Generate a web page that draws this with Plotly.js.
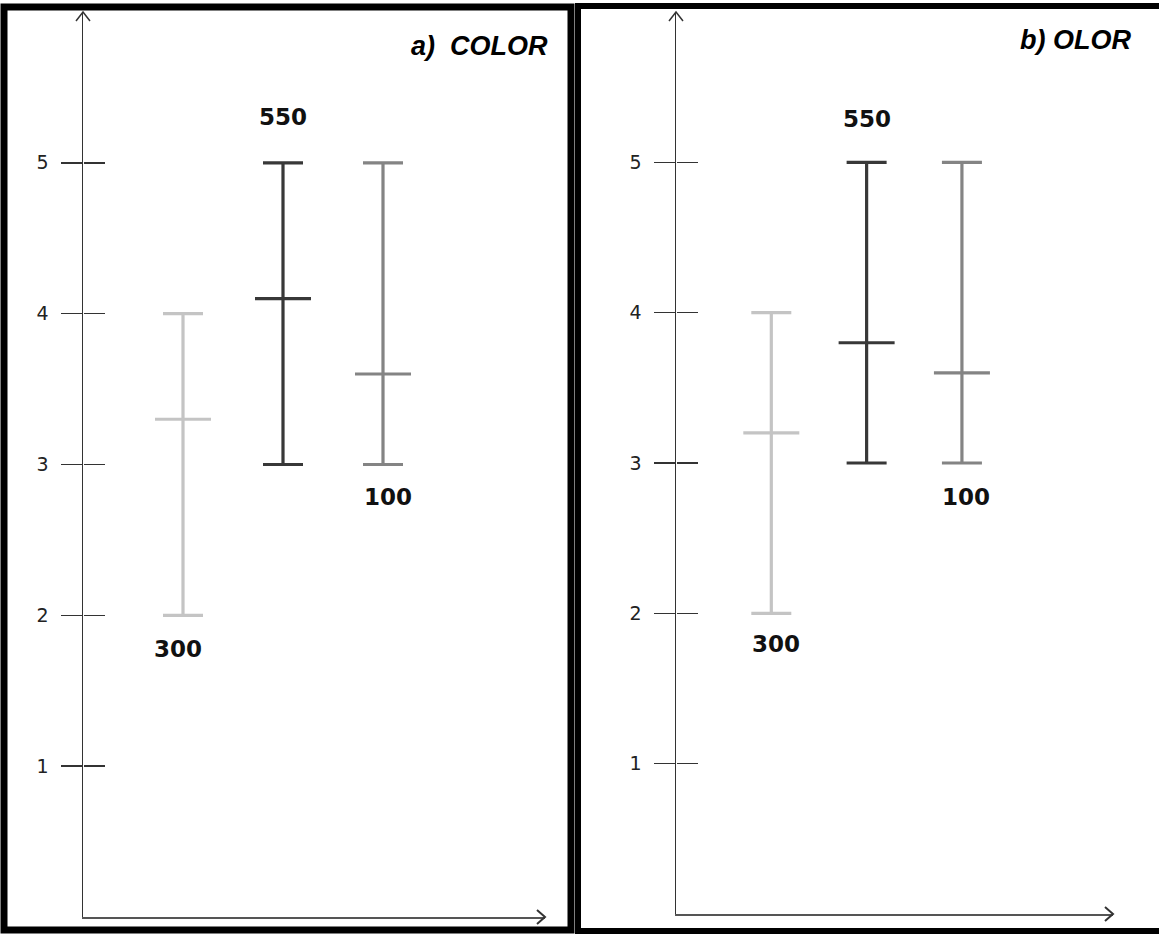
<!DOCTYPE html>
<html>
<head>
<meta charset="utf-8">
<script src="https://cdn.plot.ly/plotly-3.0.1.min.js"></script>
<style>html,body{margin:0;padding:0;background:#fff;}#chart{width:1159px;height:935px;}</style>
</head>
<body>
<div id="chart"></div>
<script>
// ---- data ----
const categories = ['300', '550', '100'];
const xPos = [1, 2, 3];
const minA = [2, 3, 3];
const meanA = [3.3, 4.1, 3.6];
const maxA = [4, 5, 5];
const minB = [2, 3, 3];
const meanB = [3.2, 3.8, 3.6];
const maxB = [4, 5, 5];
const yTicks = [1, 2, 3, 4, 5];
const panelTitles = ['a)  COLOR', 'b) OLOR'];

// ---- styling ----
const W = 1159, H = 935;
const colors = ['#c4c4c4', '#383838', '#848484'];
const px = x => x / W;
const py = y => 1 - y / H;
const labelAbove = [false, true, false];
const labelShiftA = [[-5, -34], [0, 46], [5, -32]];
const labelShiftB = [[5, -31], [0, 43], [4, -34]];

const traces = [];
function addPanel(mins, means, maxs, xa, ya) {
  for (let i = 0; i < categories.length; i++) {
    traces.push({
      type: 'scatter', mode: 'markers',
      x: [xPos[i]], y: [means[i]],
      xaxis: xa, yaxis: ya,
      marker: {symbol: 'line-ew', size: 40, color: colors[i], line: {color: colors[i], width: 3.2}},
      error_y: {type: 'data', symmetric: false,
        array: [maxs[i] - means[i]], arrayminus: [means[i] - mins[i]],
        color: colors[i], thickness: 3.2, width: 20},
      showlegend: false, hoverinfo: 'skip', name: categories[i]
    });
  }
}
addPanel(minA, meanA, maxA, 'x', 'y');
addPanel(minB, meanB, maxB, 'x2', 'y2');
// invisible traces to activate the overlay tick axes (right-pointing tick halves)
traces.push({type: 'scatter', mode: 'markers', x: [xPos[0]], y: [yTicks[0]], xaxis: 'x', yaxis: 'y3', marker: {opacity: 0}, showlegend: false, hoverinfo: 'skip'});
traces.push({type: 'scatter', mode: 'markers', x: [xPos[0]], y: [yTicks[0]], xaxis: 'x2', yaxis: 'y4', marker: {opacity: 0}, showlegend: false, hoverinfo: 'skip'});

const annotations = [];
function addLabels(mins, maxs, xref, yref, shifts) {
  for (let i = 0; i < categories.length; i++) {
    annotations.push({
      x: xPos[i], y: labelAbove[i] ? maxs[i] : mins[i], xref: xref, yref: yref,
      text: '<b>' + categories[i] + '</b>', showarrow: false,
      xshift: shifts[i][0], yshift: shifts[i][1],
      font: {family: 'DejaVu Sans', size: 23, color: '#111'}
    });
  }
}
addLabels(minA, maxA, 'x', 'y', labelShiftA);
addLabels(minB, maxB, 'x2', 'y2', labelShiftB);
annotations.push({x: px(550), y: py(46), xref: 'paper', yref: 'paper', xanchor: 'right', yanchor: 'middle',
  text: '<b><i>' + panelTitles[0] + '</i></b>', showarrow: false,
  font: {family: 'Liberation Sans Narrow, Liberation Sans, Arial', size: 27, color: '#000'}});
annotations.push({x: px(1133), y: py(40), xref: 'paper', yref: 'paper', xanchor: 'right', yanchor: 'middle',
  text: '<b><i>' + panelTitles[1] + '</i></b>', showarrow: false,
  font: {family: 'Liberation Sans Narrow, Liberation Sans, Arial', size: 27, color: '#000'}});

const axisCommon = {showgrid: false, zeroline: false, fixedrange: true};
const yBase = Object.assign({}, axisCommon, {
  range: [0, 6], tickvals: yTicks, ticktext: yTicks.map(String),
  ticks: 'outside', ticklen: 21, tickwidth: 1.5, tickcolor: '#333',
  showline: true, linecolor: '#333', linewidth: 1.5,
  tickfont: {family: 'DejaVu Sans', size: 19, color: '#222'}, ticklabelstandoff: 8
});
const yInner = Object.assign({}, axisCommon, {
  range: [0, 6], tickvals: yTicks, showticklabels: false, side: 'right', anchor: 'free',
  ticks: 'outside', ticklen: 21, tickwidth: 1.5, tickcolor: '#333', showline: false
});
const xBase = Object.assign({}, axisCommon, {
  showticklabels: false, ticks: '', showline: true, linecolor: '#555', linewidth: 2
});

function chevronUp(x, y) {
  return 'M' + px(x - 7) + ',' + py(y + 9) + ' L' + px(x) + ',' + py(y) + ' L' + px(x + 7) + ',' + py(y + 9);
}
function chevronRight(x, y) {
  return 'M' + px(x - 8) + ',' + py(y - 7) + ' L' + px(x) + ',' + py(y) + ' L' + px(x - 8) + ',' + py(y + 7);
}
const shapes = [
  {type: 'rect', xref: 'paper', yref: 'paper', x0: px(4), x1: px(571), y0: py(930), y1: py(7), line: {color: '#000', width: 7}},
  {type: 'rect', xref: 'paper', yref: 'paper', x0: px(578), x1: px(1175), y0: py(931), y1: py(6), line: {color: '#000', width: 6}},
  {type: 'path', xref: 'paper', yref: 'paper', path: chevronUp(83, 12), line: {color: '#333', width: 1.5}},
  {type: 'path', xref: 'paper', yref: 'paper', path: chevronRight(545, 917), line: {color: '#333', width: 2}},
  {type: 'path', xref: 'paper', yref: 'paper', path: chevronUp(676, 12), line: {color: '#333', width: 1.5}},
  {type: 'path', xref: 'paper', yref: 'paper', path: chevronRight(1113, 914), line: {color: '#333', width: 2}}
];

const layout = {
  width: W, height: H, margin: {l: 0, r: 0, t: 0, b: 0},
  paper_bgcolor: '#fff', plot_bgcolor: 'rgba(0,0,0,0)', showlegend: false,
  xaxis: Object.assign({}, xBase, {domain: [px(83), px(545)], range: [0, 4.62], anchor: 'y'}),
  yaxis: Object.assign({}, yBase, {domain: [py(917), py(12)], anchor: 'x'}),
  yaxis3: Object.assign({}, yInner, {domain: [py(917), py(12)], overlaying: 'y', position: px(83)}),
  xaxis2: Object.assign({}, xBase, {domain: [px(676), px(1113)], range: [0, 4.585], anchor: 'y2'}),
  yaxis2: Object.assign({}, yBase, {domain: [py(914), py(12)], anchor: 'x2'}),
  yaxis4: Object.assign({}, yInner, {domain: [py(914), py(12)], overlaying: 'y2', position: px(676)}),
  annotations: annotations, shapes: shapes
};
Plotly.newPlot('chart', traces, layout, {displayModeBar: false, staticPlot: true});
</script>
</body>
</html>
